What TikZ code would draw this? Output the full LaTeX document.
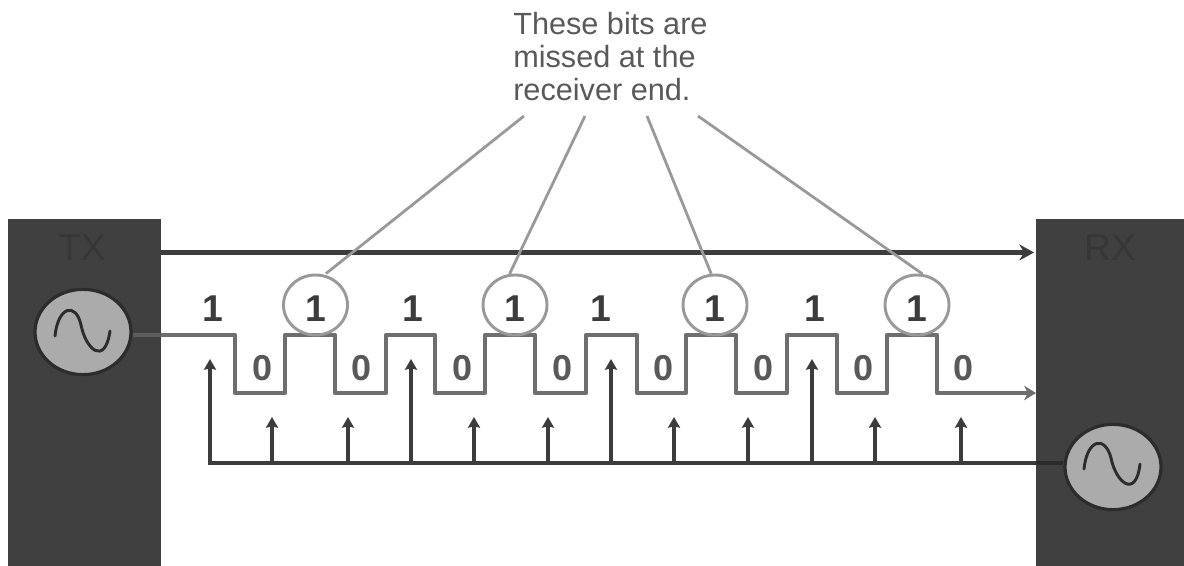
\documentclass[tikz,border=0pt]{standalone}
\usepackage{fontspec}
\setmainfont{Liberation Sans}
\usetikzlibrary{arrows.meta,shapes.geometric}
\definecolor{boxgray}{HTML}{404040}
\definecolor{txtgray}{HTML}{373737}
\definecolor{oscgray}{HTML}{ABABAB}
\definecolor{oscrim}{HTML}{2C2C2C}
\definecolor{siggray}{HTML}{6E6E6E}
\definecolor{leadgray}{HTML}{999999}
\definecolor{linegray}{HTML}{3C3C3C}
\tikzset{
  x=0.75pt,y=-0.75pt,
  osc/.style={ellipse,draw=oscrim,line width=2.4pt,fill=oscgray,minimum width=72pt,minimum height=64pt,inner sep=0pt},
  stationlabel/.style={text=txtgray,font=\fontsize{28}{30}\selectfont,inner sep=0pt},
  bit/.style={text=linegray,font=\fontsize{28}{30}\selectfont\bfseries,inner sep=0pt,anchor=base},
  zerobit/.style={text=linegray!85!white,font=\fontsize{27}{30}\selectfont\bfseries,inner sep=0pt,anchor=base},
  ring/.style={ellipse,draw=leadgray,line width=2.2pt,minimum width=48pt,minimum height=45pt,inner sep=0pt},
  leader/.style={draw=leadgray,line width=2.1pt},
  sigline/.style={draw=siggray,line width=3.4pt,line join=round},
  mainline/.style={draw=linegray,line width=3.2pt},
  clock/.style={draw=linegray,line width=3pt},
  tick/.style={draw=linegray,line width=2.8pt,-{Stealth[length=8pt,width=9pt,inset=1pt]}},
  wave/.style={draw=oscrim,line width=2.2pt,line cap=round},
  note/.style={text=linegray!85!white,font=\fontsize{23}{24.7}\selectfont,align=left,anchor=north west,inner sep=0pt}
}
\begin{document}
\begin{tikzpicture}
\useasboundingbox (0,0) rectangle (1184,566);
% stations
\path[fill=boxgray] (8,219) rectangle (161,566);
\path[fill=boxgray] (1036,219) rectangle (1184,566);
\coordinate (txtop) at (161,252.5);
\coordinate (rxtop) at (1034,252.5);
\coordinate (rxsig) at (1036,393);
\coordinate (txsig) at (161,335);
\coordinate (rxclk) at (1036,463);
\node[stationlabel] (txlab) at (82,248) {TX};
\node[stationlabel] (rxlab) at (1110,248) {RX};
% oscillators
\node[osc] (txosc) at (83,332) {};
\node[osc] (rxosc) at (1113,467) {};
\draw[draw=siggray!85!black,line width=3.4pt] (txosc.east |- txsig) -- (txsig);
\draw[clock,draw=oscrim] (rxclk) -- (rxosc.west |- rxclk);
% sine waves
\draw[wave] (55,336) .. controls (58,306) and (76,302) .. (81,325)
  .. controls (86,350) and (105,366) .. (110,331);
\draw[wave] (1084,469) .. controls (1087,439) and (1105,435) .. (1111,458)
  .. controls (1116,483) and (1136,499) .. (1140,464);
% top line
\draw[mainline,-{Stealth[length=11pt,width=12pt]}] (txtop) -- (rxtop);
% signal
\draw[sigline,-{Stealth[length=9pt,width=11pt]}] (txsig) -- (235,335) -- (235,393) -- (285,393) -- (285,335) -- (335,335)
 -- (335,393) -- (386,393) -- (386,335) -- (435,335) -- (435,393) -- (485,393) -- (485,335)
 -- (535,335) -- (535,393) -- (586,393) -- (586,335) -- (637,335) -- (637,393) -- (686,393)
 -- (686,335) -- (736,335) -- (736,393) -- (787,393) -- (787,335) -- (837,335) -- (837,393)
 -- (887,393) -- (887,335) -- (937,335) -- (937,393) -- (rxsig);
% clock
\coordinate (c0) at (210,463);
\draw[clock] (rxclk) -- (c0);
\foreach \n/\xx/\top in {a/210/359,b/272/417,c/348/417,d/411/359,e/474/417,f/548/417,g/611/359,h/674/417,i/748/417,j/812/359,k/875/417,l/961/417}{
  \coordinate (base\n) at (\xx,464.5);
  \coordinate (tip\n) at (\xx,\top);
  \draw[tick] (base\n) -- (tip\n);
}
% bits
\foreach \n/\xx in {p/213,q/413,r/601,s/815}
  \node[bit] (one\n) at (\xx,322) {1};
\foreach \n/\xx in {1/263,2/362,3/463,4/563,5/663,6/763,7/863,8/963}
  \node[zerobit] (zero\n) at (\xx,380) {0};
% missed bits
\foreach \n/\xx in {1/315.5,2/515,3/715,4/917}{
  \node[ring] (ring\n) at (\xx,305) {};
  \node[bit] at (\xx,322) {1};
}
% note
\node[note] (note) at (513,12) {These bits are\\missed at the\\receiver end.};
\coordinate (l1) at (524,116);
\coordinate (l2) at (585,116);
\coordinate (l3) at (647,116);
\coordinate (l4) at (698,116);
\draw[leader] (l1) -- (ring1.north -| 326,0);
\draw[leader] (l2) -- (ring2.100);
\draw[leader] (l3) -- (ring3.97);
\draw[leader] (l4) -- (ring4.80);
\end{tikzpicture}
\end{document}
